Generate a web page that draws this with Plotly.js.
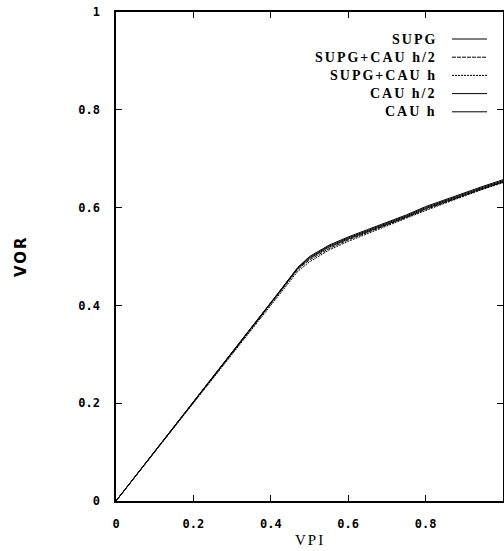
<!DOCTYPE html>
<html>
<head>
<meta charset="utf-8">
<script src="https://cdn.plot.ly/plotly-3.0.1.min.js"></script>
<style>
  html, body { margin: 0; padding: 0; background: #fff; }
  #chart { width: 504px; height: 551px; }
  .annotation-text { letter-spacing: 2px; }
</style>
</head>
<body>
<div id="chart"></div>
<script>
// ---- data ----
const seriesNames = ["SUPG", "SUPG+CAU h/2", "SUPG+CAU h", "CAU h/2", "CAU h"];
const vpi = [0, 0.1, 0.2, 0.3, 0.4, 0.47, 0.5, 0.55, 0.6, 0.65, 0.7, 0.75, 0.8, 0.85, 0.9, 0.95, 1.0];
const vorSUPG        = [0, 0.101, 0.202, 0.303, 0.404, 0.476, 0.496, 0.519, 0.536, 0.551, 0.566, 0.581, 0.598, 0.612, 0.627, 0.640, 0.653];
const vorSUPGCAUh2   = [0, 0.100, 0.201, 0.302, 0.403, 0.474, 0.493, 0.516, 0.534, 0.549, 0.564, 0.580, 0.596, 0.611, 0.625, 0.639, 0.652];
const vorSUPGCAUh    = [0, 0.100, 0.200, 0.301, 0.401, 0.470, 0.489, 0.513, 0.531, 0.547, 0.562, 0.578, 0.594, 0.609, 0.624, 0.638, 0.651];
const vorCAUh2       = [0, 0.101, 0.202, 0.303, 0.404, 0.477, 0.498, 0.521, 0.538, 0.553, 0.568, 0.583, 0.600, 0.614, 0.629, 0.642, 0.655];
const vorCAUh        = [0, 0.101, 0.203, 0.304, 0.405, 0.478, 0.500, 0.523, 0.540, 0.555, 0.570, 0.585, 0.602, 0.616, 0.631, 0.644, 0.657];
const tickVals = [0, 0.2, 0.4, 0.6, 0.8, 1];
const tickText = ["0", "0.2", "0.4", "0.6", "0.8", "1"];
const xTitle = "VPI";
const yTitle = "VOR";

const ySeries = [vorSUPG, vorSUPGCAUh2, vorSUPGCAUh, vorCAUh2, vorCAUh];
const dashes = ["solid", "4px,1px", "2px,1px", "solid", "solid"];

const traces = ySeries.map((ys, i) => ({
  type: "scatter", mode: "lines", x: vpi, y: ys, name: seriesNames[i],
  line: { color: "#000", width: 1.0, dash: dashes[i] }, showlegend: false
}));

// legend drawn as annotations + sample lines (text left of sample, as in reference)
const annotations = [];
const shapes = [];
const rowTop = 39, rowStep = 18.2, plotTop = 12, plotH = 489, plotL = 116, plotW = 387;
seriesNames.forEach((nm, i) => {
  const py = rowTop + i * rowStep;
  const yp = 1 - (py - plotTop) / plotH;
  annotations.push({
    xref: "paper", yref: "paper", x: (439 - plotL) / plotW, y: yp,
    xanchor: "right", yanchor: "middle", showarrow: false, text: nm,
    font: { family: "Liberation Serif", size: 14, color: "#000", weight: "bold" }
  });
  shapes.push({
    type: "line", xref: "paper", yref: "paper",
    x0: (452 - plotL) / plotW, x1: (487 - plotL) / plotW, y0: yp, y1: yp,
    line: { color: "#000", width: 1, dash: dashes[i] }
  });
});
// axis titles
annotations.push({
  xref: "paper", yref: "paper", x: 0.5, y: -(540 - 501) / plotH,
  xanchor: "center", yanchor: "middle", showarrow: false, text: xTitle,
  font: { family: "Liberation Serif", size: 15, color: "#000" }
});
annotations.push({
  xref: "paper", yref: "paper", x: -(116 - 21) / plotW, y: 1 - (256 - plotTop) / plotH,
  xanchor: "center", yanchor: "middle", showarrow: false, text: yTitle, textangle: -90,
  font: { family: "DejaVu Sans", size: 15, color: "#000", weight: "bold" }
});

const tickFont = { family: "DejaVu Sans Mono", size: 12, color: "#000", weight: "bold" };
const layout = {
  width: 504, height: 551,
  margin: { l: 116, r: 1, t: 12, b: 50 },
  paper_bgcolor: "#fff", plot_bgcolor: "#fff",
  showlegend: false,
  xaxis: {
    range: [0, 1], tickvals: tickVals, ticktext: tickText,
    ticks: "inside", ticklen: 6, tickwidth: 1.2, tickcolor: "#000",
    showline: true, linecolor: "#000", linewidth: 1.6, mirror: "ticks",
    showgrid: false, zeroline: false, tickfont: tickFont, ticklabelstandoff: 11
  },
  yaxis: {
    range: [0, 1], tickvals: tickVals, ticktext: tickText,
    ticks: "inside", ticklen: 6, tickwidth: 1.2, tickcolor: "#000",
    showline: true, linecolor: "#000", linewidth: 1.6, mirror: "ticks",
    showgrid: false, zeroline: false, tickfont: tickFont, ticklabelstandoff: 12
  },
  annotations: annotations,
  shapes: shapes
};

Plotly.newPlot("chart", traces, layout, { staticPlot: true, displayModeBar: false });
</script>
</body>
</html>
